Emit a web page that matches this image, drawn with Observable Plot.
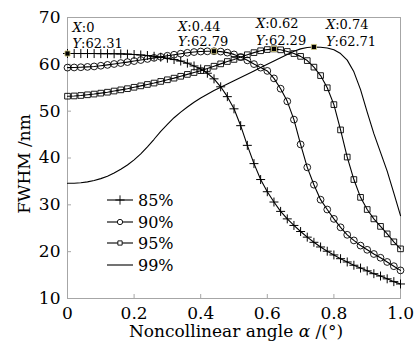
<!DOCTYPE html>
<html><head><meta charset="utf-8">
<script src="https://cdn.jsdelivr.net/npm/d3@7"></script>
<script src="https://cdn.jsdelivr.net/npm/@observablehq/plot@0.6"></script>
<style>body{margin:0;background:#fff}</style>
</head><body><div id="chart"></div>
<script>
// ---- data ----
const angles = [0,0.02,0.04,0.06,0.08,0.10,0.12,0.14,0.16,0.18,0.20,0.22,0.24,0.26,0.28,0.30,0.32,0.34,0.36,0.38,0.40,0.42,0.44,0.46,0.48,0.50,0.52,0.54,0.56,0.58,0.60,0.62,0.64,0.66,0.68,0.70,0.72,0.74,0.76,0.78,0.80,0.82,0.84,0.86,0.88,0.90,0.92,0.94,0.96,0.98,1.00];
const fwhm85 = [62.31,62.31,62.30,62.30,62.30,62.29,62.28,62.26,62.23,62.18,62.10,62.00,61.88,61.72,61.52,61.30,61.02,60.70,60.25,59.65,59.00,58.10,56.90,55.20,53.10,50.50,46.90,42.70,38.80,35.40,32.80,30.60,28.60,27.00,25.60,24.30,23.10,22.00,21.00,20.10,19.30,18.50,17.80,17.10,16.50,15.90,15.30,14.80,14.20,13.60,13.10];
const fwhm90 = [59.30,59.33,59.38,59.45,59.55,59.70,59.88,60.07,60.27,60.48,60.70,60.92,61.15,61.38,61.60,61.83,62.05,62.27,62.46,62.62,62.73,62.78,62.79,62.72,62.50,62.12,61.55,60.85,60.05,59.30,58.60,57.00,54.80,52.10,48.20,42.90,38.00,34.30,31.10,29.00,27.00,25.20,23.60,22.40,21.30,20.40,19.50,18.70,17.80,16.90,16.00];
const fwhm95 = [53.20,53.25,53.35,53.50,53.65,53.85,54.05,54.30,54.55,54.80,55.10,55.40,55.70,56.00,56.35,56.70,57.05,57.45,57.85,58.25,58.65,59.10,59.60,60.10,60.60,61.05,61.55,62.05,62.50,62.90,63.15,63.29,63.10,62.75,62.30,61.70,60.80,59.40,57.60,55.00,51.40,46.00,40.20,35.40,31.60,29.00,27.00,25.40,23.80,22.10,20.60];
const fwhm99 = [34.60,34.60,34.70,34.90,35.20,35.60,36.10,36.80,37.60,38.50,39.60,40.90,42.40,44.00,45.70,47.20,48.60,49.80,50.90,51.90,52.80,53.60,54.40,55.10,55.80,56.50,57.20,57.90,58.60,59.30,60.00,60.70,61.40,62.10,62.80,63.30,63.60,63.71,63.65,63.50,63.10,62.30,60.90,58.40,54.60,49.80,45.20,41.20,37.20,32.50,27.70];
const seriesNames = ["85%","90%","95%","99%"];
const xTicks = [0,0.2,0.4,0.6,0.8,1.0];
const xTickLabels = ["0","0.2","0.4","0.6","0.8","1.0"];
const yTicks = [10,20,30,40,50,60,70];
const annX = [0,0.44,0.62,0.74];
const annY = [62.31,62.79,63.29,63.71];
const annLabelX = ["0","0.44","0.62","0.74"];
const annLabelY = ["62.31","62.79","62.29","62.71"];
const xLabel = "Noncollinear angle α /(°)";
const yLabel = "FWHM /nm";

// ---- build table ----
const seriesArrays = [fwhm85, fwhm90, fwhm95, fwhm99];
const rows = [];
seriesNames.forEach((s, k) => angles.forEach((a, i) => rows.push({series: s, angle: a, fwhm: seriesArrays[k][i]})));
const bySeries = s => rows.filter(d => d.series === s);

const FONT = "'DejaVu Serif', serif";
const GRAY = "#a6a6a6";

const annDx = [5, -36, -18, 12];
const annDyY = [-10, -9, -8, -5];
const annDyX = [-26, -24, -25, -22];
const annMarks = [];
annX.forEach((ax, i) => {
  const pt = [{x: ax, y: annY[i]}];
  annMarks.push(Plot.text(pt, {x: "x", y: "y", text: () => "X:" + annLabelX[i], dx: annDx[i], dy: annDyX[i], textAnchor: "start", lineAnchor: "middle", fontSize: 13, fill: "#000"}));
  annMarks.push(Plot.text(pt, {x: "x", y: "y", text: () => "Y:" + annLabelY[i], dx: annDx[i], dy: annDyY[i], textAnchor: "start", lineAnchor: "middle", fontSize: 13, fill: "#000"}));
});
const annPts = annX.map((x, i) => ({x, y: annY[i]}));

const chart = Plot.plot({
  width: 420, height: 345,
  marginLeft: 67, marginRight: 20, marginTop: 17, marginBottom: 47,
  style: {fontFamily: FONT, fontSize: "17px", color: "#000", background: "#fff"},
  x: {domain: [0, 1]},
  y: {domain: [10, 70]},
  marks: [
    Plot.frame({stroke: GRAY}),
    // inward tick marks
    Plot.axisX({ticks: xTicks, tickFormat: () => "", tickSize: -4, stroke: GRAY, label: null}),
    Plot.axisY({ticks: yTicks, tickFormat: () => "", tickSize: -4, stroke: GRAY, label: null}),
    // tick labels
    Plot.axisX({ticks: xTicks, tickFormat: d => xTickLabels[xTicks.indexOf(d)], tickSize: 0, tickPadding: 8, label: null, fontSize: 17, fill: "#000"}),
    Plot.axisY({ticks: yTicks, tickSize: 0, tickPadding: 7, label: null, fontSize: 17, fill: "#000"}),
    Plot.line(rows, {x: "angle", y: "fwhm", z: "series", stroke: "#000", strokeWidth: 1.1}),
    Plot.dot(bySeries("85%"), {x: "angle", y: "fwhm", symbol: "plus", stroke: "#000", r: 3, strokeWidth: 1}),
    Plot.dot(bySeries("90%"), {x: "angle", y: "fwhm", symbol: "circle", stroke: "#000", fill: "none", r: 3.4, strokeWidth: 0.9}),
    Plot.dot(bySeries("95%"), {x: "angle", y: "fwhm", symbol: "square", stroke: "#000", fill: "none", r: 3.2, strokeWidth: 0.9}),
    Plot.dot(annPts, {x: "x", y: "y", symbol: "square", fill: "#000", stroke: "#e2d88c", r: 2.9, strokeWidth: 0.8}),
    ...annMarks,
    Plot.text([yLabel], {frameAnchor: "left", rotate: -90, dx: -43, dy: 6, textAnchor: "middle", lineAnchor: "middle", text: d => d, fontSize: 17, fill: "#000"}),
    Plot.text([xLabel], {frameAnchor: "bottom", dx: 2, dy: 33, textAnchor: "middle", lineAnchor: "middle", text: d => d, fontSize: 17, fill: "#000"})
  ]
});
document.getElementById("chart").appendChild(chart);

// ---- italic letters ----
const svg = d3.select(chart);
svg.selectAll("text").each(function() {
  const t = this.textContent;
  const el = d3.select(this);
  const m = /^([XY]):(.*)$/.exec(t);
  if (m) {
    el.text(null);
    el.append("tspan").attr("font-style", "italic").text(m[1]);
    el.append("tspan").text(":" + m[2]);
  } else if (t === xLabel) {
    const parts = t.split("α");
    el.text(null);
    el.append("tspan").text(parts[0]);
    el.append("tspan").attr("font-style", "italic").text("α");
    el.append("tspan").text(parts[1]);
  }
});

// ---- legend ----
const xs = chart.scale("x");
const left = xs.apply(0);
const lg = svg.append("g").attr("font-family", FONT).attr("font-size", 16).attr("text-anchor", "start");
const rowY = [200, 222, 243, 265];
const symTypes = [d3.symbolPlus, d3.symbolCircle, d3.symbolSquare, null];
const symSizes = [30, 22, 18, 0];
seriesNames.forEach((s, i) => {
  const y = rowY[i];
  lg.append("line").attr("x1", left + 40).attr("x2", left + 66).attr("y1", y).attr("y2", y).attr("stroke", "#000").attr("stroke-width", 1.1);
  if (symTypes[i]) {
    lg.append("path").attr("d", d3.symbol(symTypes[i], symSizes[i])()).attr("transform", `translate(${left + 53},${y})`).attr("fill", i === 0 ? "none" : "#fff").attr("stroke", "#000").attr("stroke-width", 0.9);
  }
  lg.append("text").attr("x", left + 71).attr("y", y).attr("dy", "0.35em").attr("text-anchor", "start").attr("fill", "#000").text(s);
});
</script>
</body></html>
